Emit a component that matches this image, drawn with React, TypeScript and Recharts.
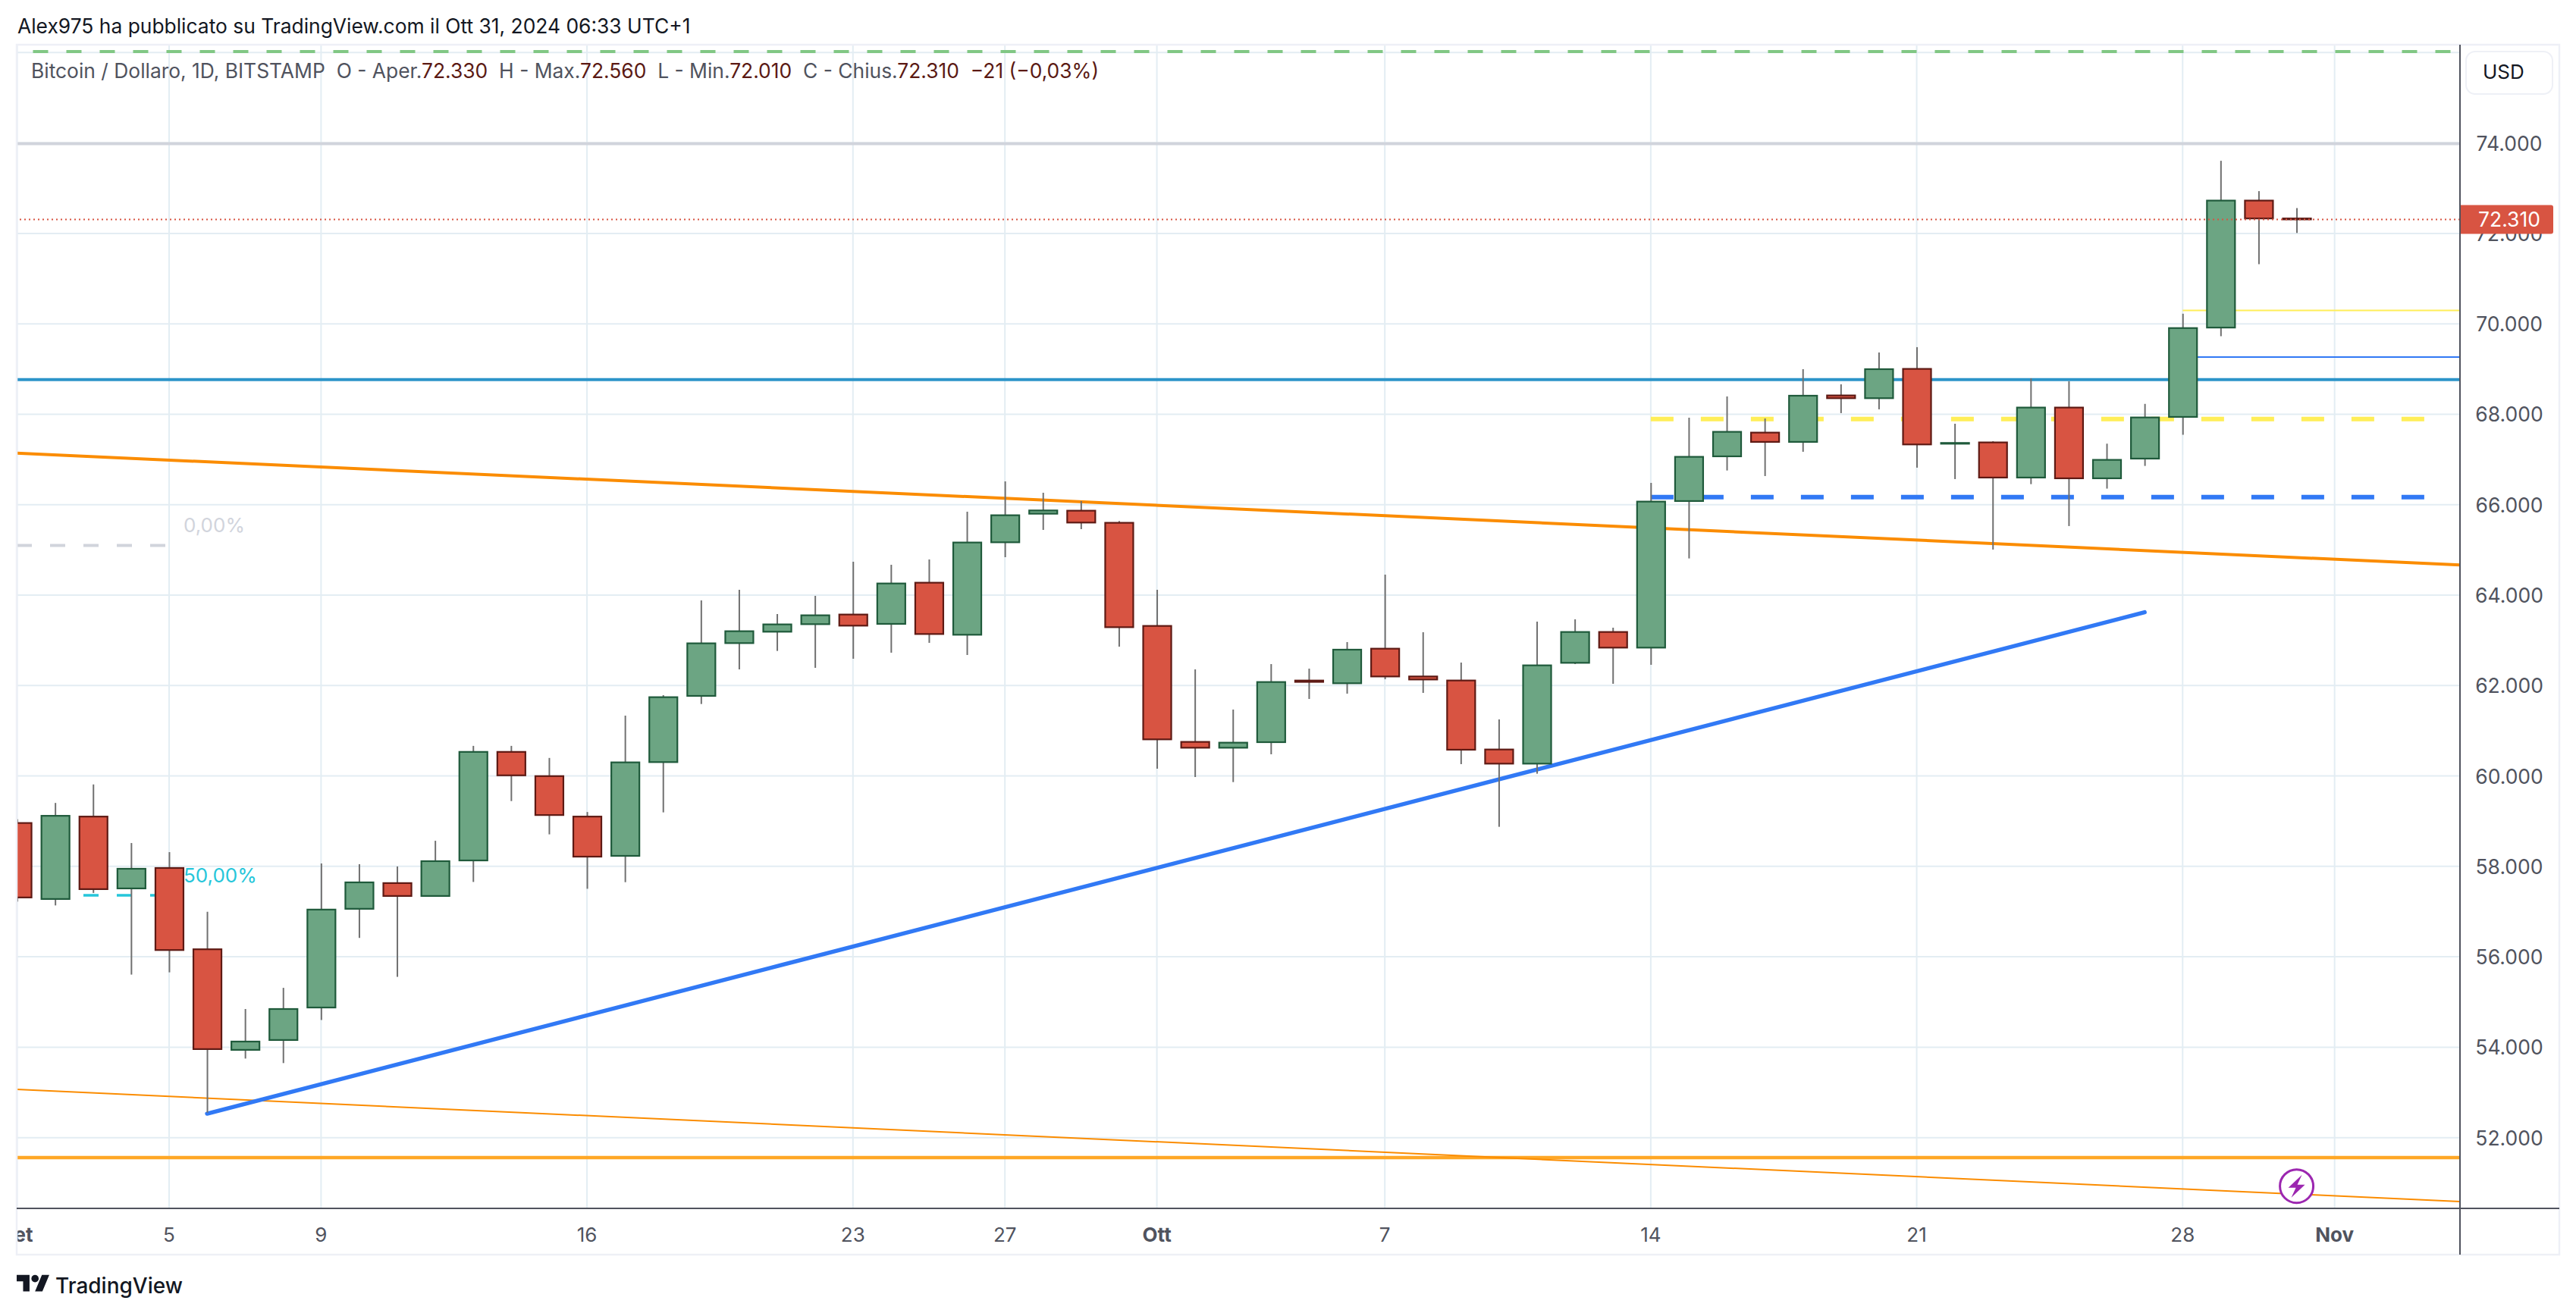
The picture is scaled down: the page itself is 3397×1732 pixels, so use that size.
import {
  Bar,
  CartesianGrid,
  ComposedChart,
  ReferenceDot,
  ReferenceLine,
  XAxis,
  YAxis,
} from "recharts";

const FONT = "Inter, 'Noto Sans', sans-serif";

// daily BTCUSD candles, 1 Sep - 31 Oct 2024
const opens = [
  58959, 57278, 59101, 57512, 57964, 56166, 53941, 54159, 54878, 57061, 57630, 57345, 58131, 60532, 59996, 59101,
  58232, 60306, 61770, 62938, 63190, 63357, 63570, 63363, 64274, 63123, 65168, 65800, 65867, 65599, 63318, 60753,
  60624, 60747, 62110, 62050, 62815, 62200, 62111, 60585, 60272, 62502, 63184, 62838, 66080, 67069, 67594, 67388,
  68416, 68355, 69003, 67360, 67377, 66600, 68148, 66583, 67019, 67941, 69917, 72726, 72330,
];
const highs = [
  59043, 59403, 59812, 58516, 58315, 56994, 54845, 55313, 58064, 58048, 57998, 58566, 60665, 60665, 60398, 59202,
  61334, 61787, 63883, 64117, 63581, 63983, 64738, 64671, 64788, 65844, 66515, 66264, 66079, 65638, 64117, 62357,
  61468, 62474, 62374, 62961, 64453, 63179, 62508, 61250, 63413, 63464, 63279, 66482, 67924, 68394, 67907, 68997,
  68662, 69366, 69484, 67790, 67404, 68796, 68729, 67349, 68229, 70223, 73606, 72935, 72560,
];
const lows = [
  57220, 57136, 57412, 55606, 55656, 52553, 53749, 53649, 54602, 56417, 55556, 57345, 57655, 59444, 58708, 57504,
  57650, 59194, 61591, 62357, 62765, 62391, 62592, 62726, 62944, 62675, 64838, 65442, 65459, 62860, 60160, 59976,
  59864, 60479, 61703, 61820, 62139, 61837, 60261, 58875, 60049, 62474, 62038, 62458, 64811, 66756, 66633, 67170,
  68025, 68109, 66818, 66566, 65007, 66454, 65527, 66355, 66857, 67546, 69726, 71319, 72010,
];
const closes = [
  57312, 59118, 57496, 57947, 56149, 53958, 54125, 54845, 57044, 57646, 57345, 58115, 60532, 60013, 59135, 58215,
  60300, 61742, 62933, 63201, 63352, 63553, 63324, 64257, 63139, 65163, 65766, 65872, 65604, 63290, 60809, 60624,
  60736, 62077, 62080, 62793, 62200, 62133, 60580, 60272, 62446, 63184, 62838, 66068, 67058, 67611, 67388, 68410,
  68355, 68997, 67332, 67365, 66600, 68148, 66583, 66991, 67929, 69906, 72726, 72331, 72310,
];

const tickDays = [0, 4, 8, 15, 22, 26, 30, 36, 43, 50, 57, 61];
const tickLabels = ["Set", "5", "9", "16", "23", "27", "Ott", "7", "14", "21", "28", "Nov"];
const monthLabels = ["Set", "Ott", "Nov"];
const priceTicks = [52000, 54000, 56000, 58000, 60000, 62000, 64000, 66000, 68000, 70000, 72000, 74000];
const gridPrices = [...priceTicks, 76000];

const LAST_CLOSE = 72310;
const X_DOMAIN = [-0.012, 64.3];
const Y_DOMAIN = [50435, 76173];

const candles = opens.map((open, i) => ({
  day: i,
  open,
  high: highs[i],
  low: lows[i],
  close: closes[i],
  range: [lows[i], highs[i]],
}));

const formatPrice = (v: number) => `${Math.floor(v / 1000)}.${String(v % 1000).padStart(3, "0")}`;

const Candle = (props: any) => {
  const { x, y, width, height, payload } = props;
  const { open, close, high, low } = payload;
  const toY = (p: number) => y + ((high - p) / (high - low)) * height;
  const up = close >= open;
  const mid = x + width / 2;
  const top = toY(Math.max(open, close));
  const bottom = toY(Math.min(open, close));
  return (
    <g>
      <line x1={mid} x2={mid} y1={y} y2={y + height} stroke="#707070" strokeWidth={2} />
      <rect
        x={x}
        y={top}
        width={width}
        height={Math.max(bottom - top, 1)}
        fill={up ? "#6ca583" : "#d85442"}
        stroke={up ? "#1f5a3b" : "#5e1a14"}
        strokeWidth={2.2}
      />
    </g>
  );
};

const PriceTick = ({ x, y, payload }: any) => {
  if (payload.value === LAST_CLOSE) {
    return (
      <g>
        <path
          d={`M${x + 1} ${y - 19}H${x + 120}q3 0 3 3V${y + 16}q0 3 -3 3H${x + 1}Z`}
          fill="#d85442"
        />
        <text x={x + 65} y={y} fill="#fff" fontFamily={FONT} fontSize={26.5} textAnchor="middle" dominantBaseline="central">
          {formatPrice(payload.value)}
        </text>
      </g>
    );
  }
  return (
    <text x={x + 65} y={y} fill="#50535e" fontFamily={FONT} fontSize={26.5} textAnchor="middle" dominantBaseline="central">
      {formatPrice(payload.value)}
    </text>
  );
};

const DayTick = ({ x, y, payload }: any) => {
  const label = tickLabels[tickDays.indexOf(payload.value)];
  return (
    <text
      x={x}
      y={y + 32}
      fill="#50535e"
      fontFamily={FONT}
      fontSize={26}
      fontWeight={monthLabels.includes(label) ? 700 : 400}
      textAnchor="middle"
      dominantBaseline="central"
    >
      {label}
    </text>
  );
};

const Bolt = ({ cx, cy }: any) => (
  <g>
    <ellipse cx={cx} cy={cy} rx={22} ry={22} fill="#fff" stroke="#9c27b0" strokeWidth={3} />
    <path
      d={`M${cx + 7} ${cy - 15}L${cx - 11} ${cy + 2}H${cx - 1}L${cx - 7} ${cy + 15}L${cx + 11} ${cy - 2}H${cx + 1}Z`}
      fill="#9c27b0"
    />
  </g>
);

const textStyle = (left: number, top: number, size: number, color: string) =>
  ({
    position: "absolute",
    left,
    top,
    fontFamily: FONT,
    fontSize: size,
    lineHeight: `${Math.round(size) + 6}px`,
    color,
    whiteSpace: "pre",
  }) as const;

const Val = ({ children }: { children: string }) => <span style={{ color: "#5b1a14" }}>{children}</span>;

export default function App() {
  return (
    <div style={{ position: "absolute", left: 0, top: 0, width: 3397, height: 1732, background: "#fff", overflow: "hidden" }}>
      <ComposedChart
        width={3397}
        height={1732}
        data={candles}
        margin={{ top: 59, right: 20, bottom: 77, left: 22 }}
      >
        <CartesianGrid stroke="#e3edf3" strokeWidth={2} verticalValues={tickDays} horizontalValues={gridPrices} />
        <XAxis
          dataKey="day"
          type="number"
          domain={X_DOMAIN}
          ticks={tickDays}
          interval={0}
          tick={<DayTick />}
          tickLine={false}
          tickSize={0}
          axisLine={{ stroke: "#50535e", strokeWidth: 2 }}
          height={61}
        />
        <YAxis
          orientation="right"
          type="number"
          domain={Y_DOMAIN}
          ticks={[...priceTicks, LAST_CLOSE]}
          interval={0}
          tick={<PriceTick />}
          tickLine={false}
          tickSize={0}
          tickMargin={0}
          axisLine={{ stroke: "#50535e", strokeWidth: 2 }}
          width={133}
        />

        {/* drawings under the candles */}
        <ReferenceLine zIndex={100} y={73984} stroke="#d1d4dc" strokeWidth={4} />
        <ReferenceLine zIndex={100} y={68767} stroke="#2c94c9" strokeWidth={4} />
        <ReferenceLine zIndex={100} y={51559} stroke="#ffa726" strokeWidth={4.5} />
        <ReferenceLine
          zIndex={100}
          segment={[{ x: 0.417, y: 76022 }, { x: 64.06, y: 76022 }]}
          stroke="#81c784"
          strokeWidth={4}
          strokeDasharray="20 24"
        />
        <ReferenceLine
          zIndex={100}
          segment={[{ x: -0.012, y: 65100 }, { x: 3.9, y: 65100 }]}
          stroke="#d1d4dc"
          strokeWidth={4}
          strokeDasharray="20 24"
        />
        <ReferenceLine
          zIndex={100}
          segment={[{ x: -0.012, y: 57360 }, { x: 3.9, y: 57360 }]}
          stroke="#26c6da"
          strokeWidth={3.5}
          strokeDasharray="20 24"
        />
        <ReferenceLine
          zIndex={100}
          segment={[{ x: -0.012, y: 67141 }, { x: 64.3, y: 64666 }]}
          stroke="#fb8c00"
          strokeWidth={4}
        />
        <ReferenceLine
          zIndex={100}
          segment={[{ x: -0.012, y: 53066 }, { x: 64.3, y: 50585 }]}
          stroke="#fb8c00"
          strokeWidth={2}
        />
        <ReferenceLine
          zIndex={100}
          segment={[{ x: 5, y: 52530 }, { x: 56, y: 63620 }]}
          stroke="#3179f5"
          strokeWidth={5.5}
          strokeLinecap="round"
        />
        <ReferenceLine
          zIndex={100}
          segment={[{ x: 43, y: 67895 }, { x: 63.37, y: 67895 }]}
          stroke="#ffee58"
          strokeWidth={6}
          strokeDasharray="30 36"
        />
        <ReferenceLine
          zIndex={100}
          segment={[{ x: 43, y: 66168 }, { x: 63.37, y: 66168 }]}
          stroke="#3179f5"
          strokeWidth={6}
          strokeDasharray="30 36"
        />
        <ReferenceLine
          zIndex={100}
          segment={[{ x: 57, y: 70295 }, { x: 64.3, y: 70295 }]}
          stroke="#ffee58"
          strokeWidth={2}
        />
        <ReferenceLine
          zIndex={100}
          segment={[{ x: 57, y: 69265 }, { x: 64.3, y: 69265 }]}
          stroke="#3179f5"
          strokeWidth={2}
        />

        <Bar dataKey="range" barSize={37} shape={<Candle />} isAnimationActive={false} />

        <ReferenceLine y={LAST_CLOSE} stroke="#d85442" strokeWidth={2} strokeDasharray="2 4" />
        <ReferenceDot x={60} y={50927} shape={<Bolt />} />
      </ComposedChart>

      {/* frame round the pane, left edge also cuts off the first candle and the month label */}
      <svg width={3397} height={1732} style={{ position: "absolute", left: 0, top: 0, pointerEvents: "none" }}>
        <rect x={0} y={50} width={21} height={1610} fill="#fff" />
        <rect x={22} y={59} width={3353} height={1596} fill="none" stroke="#eef0f6" strokeWidth={2.5} />
        <line x1={3244} x2={3244} y1={59} y2={1655} stroke="#50535e" strokeWidth={2} />
        <line x1={22} x2={3375} y1={1594} y2={1594} stroke="#50535e" strokeWidth={2} />
        <rect x={3252} y={68} width={114} height={56} rx={12} fill="#fff" stroke="#eef0f6" strokeWidth={2} />
        <g transform="translate(22 1677) scale(1.21)" fill="#131722">
          <path d="M14 22H7V11H0V4h14v18ZM28 22h-8l7.5-18h8L28 22Z" />
          <circle cx={20} cy={8} r={4} />
        </g>
      </svg>

      <div style={textStyle(23, 18, 26.4, "#131722")}>Alex975 ha pubblicato su TradingView.com il Ott 31, 2024 06:33 UTC+1</div>
      <div style={textStyle(41, 77, 26.4, "#50535e")}>
        Bitcoin / Dollaro, 1D, BITSTAMP{"  "}O - Aper.<Val>72.330</Val>{"  "}H - Max.<Val>72.560</Val>{"  "}L - Min.
        <Val>72.010</Val>{"  "}C - Chius.<Val>72.310</Val>{"  "}<Val>−21 (−0,03%)</Val>
      </div>
      <div style={textStyle(242, 677, 26, "#d1d4dc")}>0,00%</div>
      <div style={textStyle(242, 1139, 26, "#26c6da")}>50,00%</div>
      <div style={textStyle(3274, 79, 26, "#131722")}>USD</div>
      <div style={{ ...textStyle(73, 1679, 28, "#131722"), fontWeight: 500 }}>TradingView</div>
    </div>
  );
}
